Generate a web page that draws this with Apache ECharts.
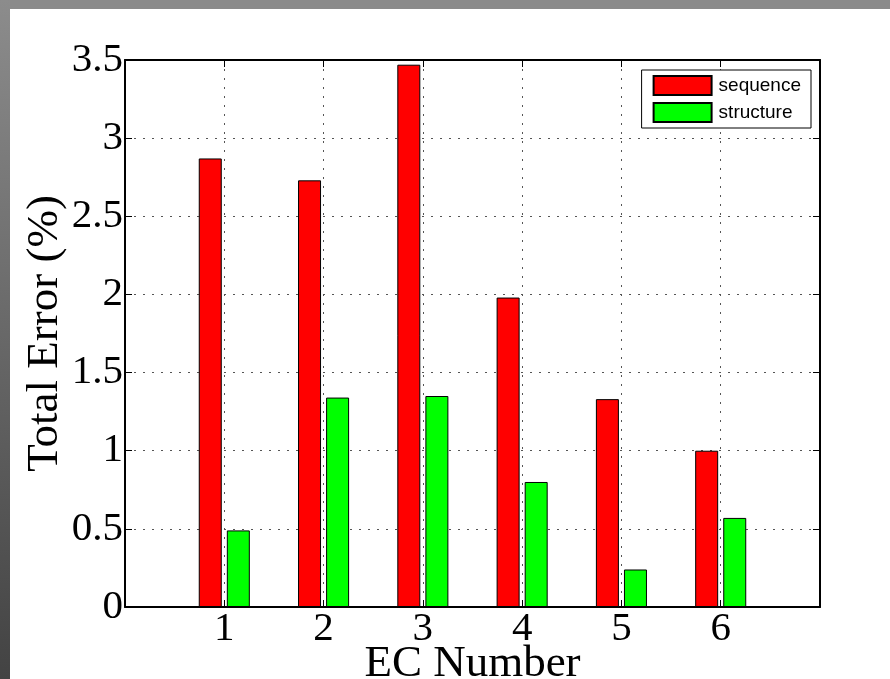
<!DOCTYPE html>
<html>
<head>
<meta charset="utf-8">
<script src="https://cdn.jsdelivr.net/npm/echarts@6/dist/echarts.min.js"></script>
<style>
  html, body { margin: 0; padding: 0; background: #fff; }
  #chart { width: 890px; height: 679px; }
</style>
</head>
<body>
<div id="chart"></div>
<script>
// EC numbers and total error per representation
const ecNumbers = [1, 2, 3, 4, 5, 6];
const sequenceError = [2.87, 2.73, 3.47, 1.98, 1.33, 1.00];
const structureError = [0.49, 1.34, 1.35, 0.80, 0.24, 0.57];
const seriesNames = ['sequence', 'structure'];

const serif = 'Liberation Serif, Times New Roman, serif';
const sans = 'Liberation Sans, Arial, sans-serif';

const chart = echarts.init(document.getElementById('chart'), null, { renderer: 'canvas' });

const dotted = { type: [2, 7], color: '#555', width: 1 };

function pairs(vals) {
  return ecNumbers.map((x, i) => [x, vals[i]]);
}

const frameLine = { show: true, onZero: false, lineStyle: { color: '#000', width: 2 } };
const frameTick = { show: true, inside: true, length: 7, lineStyle: { color: '#000', width: 1 } };

chart.setOption({
  animation: false,
  backgroundColor: '#fff',
  graphic: [
    { type: 'rect', z: -10, shape: { x: 0, y: 0, width: 890, height: 9 },
      style: { fill: '#8a8a8a' } },
    { type: 'rect', z: -10, shape: { x: 0, y: 0, width: 10, height: 679 },
      style: { fill: new echarts.graphic.LinearGradient(0, 0, 0, 1, [
        { offset: 0, color: '#8c8c8c' },
        { offset: 1, color: '#434343' }
      ]) } }
  ],
  grid: { left: 125, right: 70, top: 60, bottom: 72, containLabel: false, outerBoundsMode: 'none' },
  legend: {
    data: seriesNames,
    orient: 'vertical',
    right: 79, top: 70,
    itemWidth: 58, itemHeight: 19, itemGap: 6,
    padding: [5, 10, 5, 11],
    backgroundColor: '#fff',
    borderColor: '#000', borderWidth: 1,
    icon: 'rect',
    textStyle: { fontFamily: sans, fontSize: 19, color: '#000', padding: [0, 0, 0, 2] }
  },
  xAxis: [
    {
      type: 'value', min: 0, max: 7, interval: 1, position: 'bottom',
      name: 'EC Number', nameLocation: 'middle', nameGap: 35, nameMoveOverlap: false,
      nameTextStyle: { fontFamily: serif, fontSize: 45, color: '#000' },
      axisLine: frameLine,
      axisTick: frameTick,
      axisLabel: {
        fontFamily: serif, fontSize: 41, color: '#000', margin: 2,
        formatter: v => (v >= 1 && v <= 6 ? String(v) : '')
      },
      splitLine: { show: true, lineStyle: dotted }
    },
    {
      type: 'value', min: 0, max: 7, interval: 1, position: 'top',
      axisLine: frameLine, axisTick: frameTick,
      axisLabel: { show: false }, splitLine: { show: false }
    }
  ],
  yAxis: [
    {
      type: 'value', min: 0, max: 3.5, interval: 0.5, position: 'left',
      name: 'Total Error (%)', nameLocation: 'middle', nameGap: 57, nameMoveOverlap: false,
      nameTextStyle: { fontFamily: serif, fontSize: 45, color: '#000' },
      axisLine: frameLine,
      axisTick: frameTick,
      axisLabel: { fontFamily: serif, fontSize: 41, color: '#000', margin: 2 },
      splitLine: { show: true, lineStyle: dotted }
    },
    {
      type: 'value', min: 0, max: 3.5, interval: 0.5, position: 'right',
      axisLine: frameLine, axisTick: frameTick,
      axisLabel: { show: false }, splitLine: { show: false }
    }
  ],
  series: [
    {
      name: seriesNames[0], type: 'bar', xAxisIndex: 0, yAxisIndex: 0,
      data: pairs(sequenceError),
      barWidth: 23, barGap: '22%',
      itemStyle: { color: '#ff0000', borderColor: '#000', borderWidth: 1 }
    },
    {
      name: seriesNames[1], type: 'bar', xAxisIndex: 0, yAxisIndex: 0,
      data: pairs(structureError),
      barWidth: 23, barGap: '22%',
      itemStyle: { color: '#00ff00', borderColor: '#000', borderWidth: 1 }
    }
  ]
});
</script>
</body>
</html>
